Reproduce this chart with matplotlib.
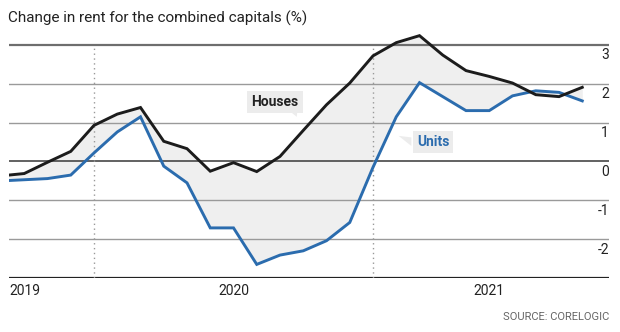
import matplotlib
matplotlib.use("Agg")
import matplotlib.pyplot as plt
from matplotlib.patches import Polygon

# ---- data (monthly index) ----
months = list(range(26))
houses = [-0.37, -0.31, -0.02, 0.26, 0.93, 1.22, 1.39, 0.52, 0.33, -0.25, -0.03, -0.26, 0.13,
          0.80, 1.46, 2.02, 2.72, 3.06, 3.24, 2.74, 2.34, 2.19, 2.02, 1.72, 1.67, 1.91]
units = [-0.50, -0.47, -0.44, -0.35, 0.22, 0.76, 1.15, -0.12, -0.55, -1.71, -1.71, -2.65, -2.41,
         -2.30, -2.04, -1.57, -0.15, 1.15, 2.03, 1.67, 1.31, 1.31, 1.69, 1.82, 1.78, 1.56]
yticks = [3, 2, 1, 0, -1, -2]
ytick_labels = ["3", "2", "1", "0", "-1", "-2"]
year_labels = ["2019", "2020", "2021"]
year_pos = [1.03, 10.0, 21.0]
marker_lines = [4, 16]

plt.rcParams['font.family'] = ['Roboto', 'DejaVu Sans']

W, H = 620, 332
fig = plt.figure(figsize=(W / 100, H / 100), dpi=100)
ax = fig.add_axes([9 / W, 54 / H, 600 / W, 250.5 / H])
ax.set_xlim(0.344, 26.15)
ax.set_ylim(-3, 3.45)
ax.axis('off')

blue = '#2b6cae'
black = '#1c1c1c'

# gridlines
for v in yticks:
    if v == 3:
        c, lw = '#6e6e6e', 1.6
    elif v == 0:
        c, lw = '#555555', 1.3
    else:
        c, lw = '#9a9a9a', 1.0
    ax.axhline(v, color=c, lw=lw, zorder=1)
ax.axhline(-3, color='#222222', lw=1.6, zorder=1)

for m in marker_lines:
    ax.plot([m, m], [-3, 3], color='#999999', lw=1.0, ls=(0, (1, 2.5)), zorder=1)

ax.fill_between(months, houses, units, color='#efefef', lw=0, zorder=0.5)
ax.plot(months, units, color=blue, lw=2.1, zorder=3, solid_joinstyle='miter')
ax.plot(months, houses, color=black, lw=2.1, zorder=4, solid_joinstyle='miter')

# y tick labels at right, just below the gridlines
for v, s in zip(yticks, ytick_labels):
    ax.annotate(s, xy=(1, v), xycoords=('axes fraction', 'data'), xytext=(0, -2.5),
                textcoords='offset points', ha='right', va='top', fontsize=10, color='#222222')

# year labels
for s, p in zip(year_labels, year_pos):
    ax.annotate(s, xy=(p, -3), xycoords='data', xytext=(0, -4), textcoords='offset points',
                ha='center', va='top', fontsize=10, color='#222222')

# series labels
ax.text(11.78, 1.54, "Houses", ha='center', va='center', fontsize=10, fontweight='bold',
        color='#222222', zorder=6,
        bbox=dict(boxstyle='square,pad=0.3', fc='#ececec', ec='none'))
ax.add_patch(Polygon([[12.35, 1.33], [12.75, 1.33], [12.72, 1.15]], closed=True,
                     fc='#ececec', ec='none', zorder=5))
ax.text(18.58, 0.51, "Units", ha='center', va='center', fontsize=10, fontweight='bold',
        color=blue, zorder=6,
        bbox=dict(boxstyle='square,pad=0.3', fc='#ececec', ec='none'))
ax.add_patch(Polygon([[17.65, 0.62], [17.65, 0.40], [17.1, 0.66]], closed=True,
                     fc='#ececec', ec='none', zorder=5))

fig.text(8 / W, 1 - 18 / H, "Change in rent for the combined capitals (%)", ha='left',
         va='center', fontsize=11, color='#222222')
fig.text(609 / W, 1 - 317 / H, "SOURCE: CORELOGIC", ha='right', va='center', fontsize=8,
         color='#666666')

fig.savefig('out.png', dpi=100)
